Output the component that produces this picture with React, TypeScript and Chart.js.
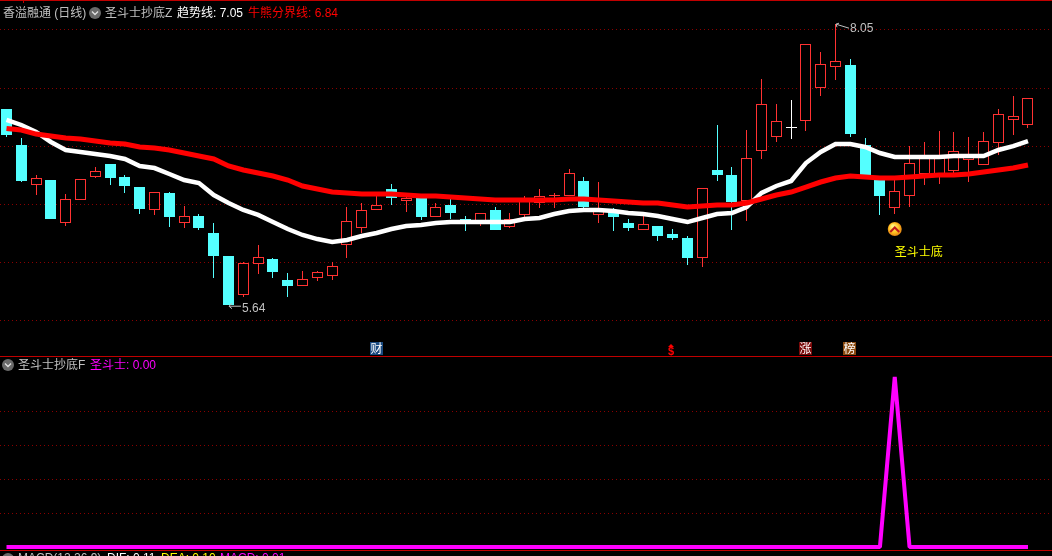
import React, { useEffect, useRef } from "react";
import { Chart, registerables } from "chart.js";

Chart.register(...registerables);

const opens = [7.32,7.01,6.67,6.71,6.34,6.54,6.74,6.85,6.74,6.65,6.45,6.60,6.34,6.40,6.26,6.06,5.72,5.99,6.03,5.85,5.80,5.87,5.89,6.15,6.30,6.45,6.63,6.53,6.57,6.39,6.50,6.38,6.33,6.45,6.31,6.41,6.51,6.57,6.57,6.70,6.41,6.45,6.34,6.28,6.32,6.25,6.21,6.04,6.80,6.75,6.53,6.96,7.08,7.16,7.22,7.50,7.68,7.70,7.01,6.72,6.47,6.57,6.76,6.76,6.79,6.88,6.84,7.03,7.23,7.18];
const closes = [7.10,6.70,6.73,6.38,6.55,6.72,6.79,6.73,6.66,6.46,6.61,6.39,6.40,6.30,6.06,5.64,6.00,6.05,5.92,5.80,5.86,5.92,5.97,6.36,6.45,6.50,6.56,6.56,6.39,6.48,6.43,6.36,6.43,6.28,6.38,6.54,6.57,6.58,6.77,6.48,6.46,6.39,6.30,6.33,6.23,6.21,6.04,6.64,6.75,6.52,6.90,7.36,7.22,7.16,7.88,7.71,7.73,7.11,6.75,6.57,6.62,6.86,6.92,6.91,6.96,6.91,7.05,7.28,7.26,7.42];
const highs = [7.32,7.07,6.75,6.71,6.59,6.72,6.82,6.85,6.75,6.65,6.61,6.61,6.49,6.42,6.34,6.06,6.01,6.15,6.04,5.91,5.93,5.93,6.01,6.48,6.51,6.58,6.68,6.58,6.57,6.51,6.55,6.40,6.43,6.48,6.43,6.57,6.63,6.60,6.81,6.74,6.69,6.47,6.38,6.40,6.32,6.29,6.23,6.64,7.18,6.82,7.14,7.58,7.36,7.40,7.88,7.81,8.05,7.75,7.07,6.74,6.71,7.00,7.04,7.13,7.12,7.08,7.12,7.32,7.43,7.42];
const lows = [7.08,6.69,6.58,6.38,6.32,6.54,6.73,6.67,6.60,6.42,6.41,6.31,6.30,6.28,5.87,5.64,5.71,5.90,5.87,5.71,5.80,5.84,5.85,6.04,6.26,6.45,6.50,6.44,6.37,6.39,6.38,6.27,6.32,6.28,6.30,6.39,6.47,6.47,6.57,6.47,6.34,6.27,6.27,6.28,6.19,6.20,5.98,5.96,6.70,6.28,6.36,6.89,7.04,7.06,7.13,7.43,7.57,7.08,6.75,6.41,6.42,6.48,6.67,6.68,6.77,6.69,6.84,6.93,7.10,7.16];
const trendLine = [7.227,7.184,7.124,7.038,6.969,6.952,6.935,6.917,6.892,6.832,6.814,6.763,6.711,6.685,6.582,6.514,6.454,6.411,6.350,6.290,6.239,6.204,6.179,6.196,6.230,6.256,6.290,6.316,6.325,6.342,6.350,6.350,6.350,6.350,6.350,6.376,6.385,6.419,6.445,6.454,6.454,6.445,6.428,6.419,6.402,6.376,6.350,6.385,6.419,6.428,6.479,6.600,6.660,6.703,6.857,6.952,7.020,7.020,6.995,6.943,6.909,6.909,6.909,6.909,6.917,6.917,6.917,6.969,7.003,7.046];
const bullBearLine = [7.154,7.141,7.106,7.089,7.072,7.064,7.046,7.029,7.020,6.995,6.986,6.969,6.943,6.917,6.892,6.832,6.797,6.771,6.746,6.711,6.660,6.634,6.608,6.600,6.591,6.591,6.591,6.582,6.574,6.574,6.565,6.557,6.548,6.540,6.540,6.540,6.540,6.540,6.548,6.548,6.540,6.531,6.522,6.514,6.514,6.496,6.479,6.488,6.496,6.496,6.514,6.548,6.582,6.608,6.651,6.694,6.728,6.746,6.737,6.728,6.728,6.737,6.746,6.754,6.754,6.763,6.780,6.797,6.814,6.840];
const signal = opens.map(() => 0);
signal[60] = 100;

const priceGrid = [8.0, 7.5, 7.0, 6.5, 6.0, 5.5];
const signalGrid = [20, 40, 60, 80];

const xMin = -6.5 / 14.804;
const xMax = (1052 - 6.5) / 14.804;
const TOP_H = 356;
const BOT_H = 200;

const CYAN = "#54FFFF";
const RED = "#FF3232";
const GRAY = "#C0C0C0";
const UI = '"Liberation Sans", "Noto Sans CJK SC", sans-serif';
const CJK = '"Noto Sans CJK SC", sans-serif';

const topHeader = [
  { text: "香溢融通 (日线)", x: 3, color: GRAY },
  { text: "圣斗士抄底Z", x: 105, color: GRAY },
  { text: "趋势线: 7.05", x: 177, color: "#FFFFFF" },
  { text: "牛熊分界线: 6.84", x: 248, color: "#FF0000" },
];
const lowHeader = [
  { text: "圣斗士抄底F", x: 18, y: 10, color: GRAY },
  { text: "圣斗士: 0.00", x: 90, y: 10, color: "#FF00FF" },
  { text: "MACD(12,26,9)", x: 18, y: 203, color: GRAY },
  { text: "DIF: 0.11", x: 107, y: 203, color: "#FFFFFF" },
  { text: "DEA: 0.10", x: 161, y: 203, color: "#FFFF00" },
  { text: "MACD: 0.01", x: 220, y: 203, color: "#FF00FF" },
];
const badges = [
  { index: 25, text: "财", bg: "#1A4A80" },
  { index: 54, text: "涨", bg: "#7A0A0A" },
  { index: 57, text: "榜", bg: "#8A4A10" },
];
const dollarIndex = 45;
const bottomSignalIndex = 60;
const bottomSignalText = "圣斗士底";

const colorOf = (i: number, up: string, down: string, flat: string) =>
  closes[i] > opens[i] ? up : closes[i] < opens[i] ? down : flat;

function roundBars(chart: any) {
  chart.getSortedVisibleDatasetMetas().forEach((meta: any) => {
    if (meta.type !== "bar") return;
    meta.data.forEach((bar: any) => {
      const w = bar.width;
      bar.x = Math.round(bar.x - w / 2) + w / 2;
      const a = Math.round(bar.y);
      let b = Math.round(bar.base);
      if (a === b) b = a + 1;
      bar.y = a;
      bar.base = b;
    });
  });
}

function chevronCircle(ctx: CanvasRenderingContext2D, x: number, y: number) {
  ctx.fillStyle = "#6A6A6A";
  ctx.beginPath();
  ctx.arc(x, y, 6, 0, Math.PI * 2);
  ctx.fill();
  ctx.strokeStyle = "#E0E0E0";
  ctx.lineWidth = 1.4;
  ctx.beginPath();
  ctx.moveTo(x - 3, y - 1.5);
  ctx.lineTo(x, y + 1.5);
  ctx.lineTo(x + 3, y - 1.5);
  ctx.stroke();
}

const topOverlay = {
  id: "topOverlay",
  beforeDatasetsDraw: roundBars,
  afterDraw(chart: any) {
    const { ctx, scales } = chart;
    const X = scales.x;
    const Y = scales.y;
    ctx.save();
    ctx.fillStyle = "#C00000";
    ctx.fillRect(0, 0, 1052, 1);
    ctx.fillRect(23, 0, 1, 3);

    ctx.font = `12px ${UI}`;
    ctx.textBaseline = "middle";
    ctx.textAlign = "left";
    topHeader.forEach((t) => {
      ctx.fillStyle = t.color;
      ctx.fillText(t.text, t.x, 14);
    });
    chevronCircle(ctx, 95, 13);

    // extreme labels
    const loVal = Math.min(...lows);
    const hiVal = Math.max(...highs);
    const loX = Math.round(X.getPixelForValue(lows.indexOf(loVal)));
    const hiX = Math.round(X.getPixelForValue(highs.indexOf(hiVal)));
    const loY = Y.getPixelForValue(loVal);
    const hiY = Y.getPixelForValue(hiVal);
    ctx.strokeStyle = GRAY;
    ctx.lineWidth = 1;
    ctx.beginPath();
    ctx.moveTo(loX + 12, loY + 1.5);
    ctx.lineTo(loX, loY + 1.5);
    ctx.moveTo(loX + 3, loY - 1.5);
    ctx.lineTo(loX, loY + 1.5);
    ctx.lineTo(loX + 3, loY + 4);
    ctx.moveTo(hiX + 13, hiY + 4);
    ctx.lineTo(hiX, hiY);
    ctx.moveTo(hiX + 3, hiY - 1);
    ctx.lineTo(hiX, hiY);
    ctx.lineTo(hiX + 1, hiY + 3);
    ctx.stroke();
    ctx.fillStyle = GRAY;
    ctx.fillText(loVal.toFixed(2), loX + 13, loY + 4);
    ctx.fillText(hiVal.toFixed(2), hiX + 14, hiY + 5);

    // bottom signal marker
    const sx = X.getPixelForValue(bottomSignalIndex);
    const grad = ctx.createRadialGradient(sx - 2, 226, 1, sx, 229, 7.5);
    grad.addColorStop(0, "#FFF27A");
    grad.addColorStop(0.6, "#FFC020");
    grad.addColorStop(1, "#E07A10");
    ctx.fillStyle = grad;
    ctx.beginPath();
    ctx.arc(sx, 229, 7, 0, Math.PI * 2);
    ctx.fill();
    ctx.strokeStyle = "#C01818";
    ctx.lineWidth = 2;
    ctx.beginPath();
    ctx.moveTo(sx - 4.5, 232);
    ctx.lineTo(sx, 227.5);
    ctx.lineTo(sx + 4.5, 232);
    ctx.stroke();
    ctx.fillStyle = "#FFFF00";
    ctx.font = `12px ${CJK}`;
    ctx.fillText(bottomSignalText, sx, 251);

    // event badges
    badges.forEach((b) => {
      const cx = Math.round(X.getPixelForValue(b.index));
      ctx.fillStyle = b.bg;
      ctx.fillRect(cx - 7, 342, 13, 13);
      ctx.fillStyle = "#FFFFFF";
      ctx.font = `12px ${CJK}`;
      ctx.textAlign = "center";
      ctx.fillText(b.text, cx - 0.5, 348.5);
    });
    const dx = Math.round(X.getPixelForValue(dollarIndex)) - 2;
    ctx.fillStyle = "#FF0000";
    ctx.beginPath();
    ctx.moveTo(dx, 344);
    ctx.lineTo(dx + 3, 347);
    ctx.lineTo(dx - 3, 347);
    ctx.closePath();
    ctx.fill();
    ctx.font = `bold 11px ${UI}`;
    ctx.textAlign = "center";
    ctx.fillText("$", dx, 351.5);
    ctx.restore();
  },
};

const lowOverlay = {
  id: "lowOverlay",
  afterDraw(chart: any) {
    const { ctx } = chart;
    ctx.save();
    ctx.fillStyle = "#C00000";
    ctx.fillRect(0, 0, 1052, 1);
    ctx.fillRect(0, 194, 1052, 1);
    ctx.font = `12px ${UI}`;
    ctx.textBaseline = "middle";
    ctx.textAlign = "left";
    lowHeader.forEach((t) => {
      ctx.fillStyle = t.color;
      ctx.fillText(t.text, t.x, t.y);
    });
    chevronCircle(ctx, 8, 9);
    chevronCircle(ctx, 8, 203);
    ctx.restore();
  },
};

const gridAxis = (min: number, max: number, values: number[]) => ({
  min,
  max,
  grid: { color: "#8A0000", lineWidth: 1, drawTicks: false },
  border: { display: false, dash: [1, 3] },
  ticks: { display: false },
  afterBuildTicks: (s: any) => {
    s.ticks = values.map((v) => ({ value: v }));
  },
  afterFit: (s: any) => {
    s.width = 0;
  },
});

const xAxis = { type: "linear", min: xMin, max: xMax, display: false, offset: false };

export default function App() {
  const topRef = useRef<HTMLCanvasElement>(null);
  const lowRef = useRef<HTMLCanvasElement>(null);

  useEffect(() => {
    document.body.style.margin = "0";
    document.body.style.background = "#000";
    const xs = opens.map((_, i) => i);
    const base = {
      responsive: false,
      animation: false,
      devicePixelRatio: 1,
      layout: { padding: 0 },
      plugins: { legend: { display: false }, tooltip: { enabled: false }, title: { display: false } },
      events: [],
    };
    const top = new Chart(topRef.current!, {
      type: "bar",
      plugins: [topOverlay],
      data: {
        datasets: [
          {
            type: "line",
            label: "牛熊分界线",
            data: xs.map((x) => ({ x, y: bullBearLine[x] })),
            borderColor: "#FF0000",
            borderWidth: 5,
            pointRadius: 0,
            tension: 0,
            order: 1,
          },
          {
            type: "line",
            label: "趋势线",
            data: xs.map((x) => ({ x, y: trendLine[x] })),
            borderColor: "#FFFFFF",
            borderWidth: 4.5,
            pointRadius: 0,
            tension: 0,
            order: 2,
          },
          {
            label: "实体",
            data: xs.map((x) => ({ x, y: [opens[x], closes[x]] })),
            backgroundColor: xs.map((i) => colorOf(i, "#000000", CYAN, "#FFFFFF")),
            borderColor: xs.map((i) => colorOf(i, RED, CYAN, "#FFFFFF")),
            borderWidth: 1,
            borderSkipped: false,
            barThickness: 11,
            grouped: false,
            minBarLength: 1,
            inflateAmount: 0,
            order: 3,
          },
          {
            label: "影线",
            data: xs.map((x) => ({ x, y: [lows[x], highs[x]] })),
            backgroundColor: xs.map((i) => colorOf(i, RED, CYAN, "#FFFFFF")),
            borderWidth: 0,
            barThickness: 1,
            grouped: false,
            inflateAmount: 0,
            order: 4,
          },
        ],
      },
      options: {
        ...base,
        scales: {
          x: xAxis,
          y: gridAxis(8 + 30 / 116.4 - TOP_H / 116.4, 8 + 30 / 116.4, priceGrid),
        },
      },
    } as any);
    const low = new Chart(lowRef.current!, {
      type: "line",
      plugins: [lowOverlay],
      data: {
        datasets: [
          {
            label: "圣斗士",
            data: xs.map((x) => ({ x, y: signal[x] })),
            borderColor: "#FF00FF",
            borderWidth: 4,
            borderJoinStyle: "bevel",
            pointRadius: 0,
            tension: 0,
          },
        ],
      },
      options: {
        ...base,
        scales: {
          x: xAxis,
          y: gridAxis(-9 / 1.7, 191 / 1.7, signalGrid),
        },
      },
    } as any);
    return () => {
      top.destroy();
      low.destroy();
    };
  }, []);

  return (
    <div style={{ position: "fixed", left: 0, top: 0, width: 1052, height: 556, background: "#000", overflow: "hidden" }}>
      <canvas ref={topRef} width={1052} height={TOP_H} style={{ position: "absolute", left: 0, top: 0, display: "block" }} />
      <canvas ref={lowRef} width={1052} height={BOT_H} style={{ position: "absolute", left: 0, top: TOP_H, display: "block" }} />
    </div>
  );
}
